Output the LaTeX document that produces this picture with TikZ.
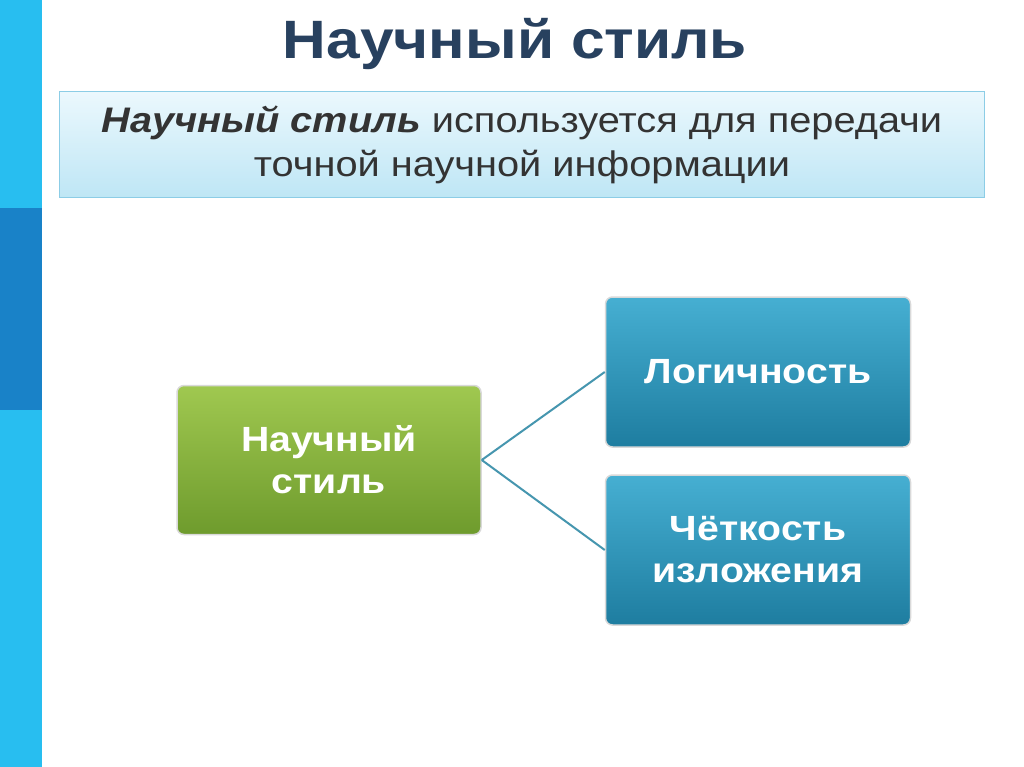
\documentclass[tikz,border=0pt]{standalone}
\usepackage{fontspec}
\setmainfont[FakeStretch=1.12]{Liberation Sans}
\definecolor{barl}{RGB}{40,190,240}
\definecolor{bard}{RGB}{25,130,200}
\definecolor{ttl}{RGB}{40,65,95}
\definecolor{btop}{RGB}{70,175,210}
\definecolor{bbot}{RGB}{30,125,160}
\definecolor{gtop}{RGB}{160,200,80}
\definecolor{gbot}{RGB}{110,155,45}
\definecolor{dtop}{RGB}{235,248,253}
\definecolor{dbot}{RGB}{190,230,245}
\definecolor{dbrd}{RGB}{140,205,230}
\definecolor{cn}{RGB}{70,150,175}
\begin{document}
\begin{tikzpicture}[x=1pt,y=-1pt,
  bbox/.style={draw=white!85!black, line width=1.5pt, rounded corners=7pt, top color=btop, bottom color=bbot, text=white, font=\bfseries\fontsize{35}{42}\selectfont, align=center, minimum width=305pt, minimum height=150pt, inner sep=0pt},
  conn/.style={draw=cn, line width=2pt}]
\useasboundingbox (0,0) rectangle (1024,767);
\fill[white] (0,0) rectangle (1024,767);
\fill[barl] (0,0) rectangle (42,767);
\fill[bard] (0,208) rectangle (42,410);
\node[text=ttl, font=\bfseries\fontsize{54}{60}\selectfont] (title) at (515,44) {Научный стиль};
\node[draw=dbrd, line width=1pt, top color=dtop, bottom color=dbot, minimum width=925pt, minimum height=106pt, inner sep=0pt, align=center, font=\fontsize{35.5}{44}\selectfont, text=black!80] (def) at (522,145) {\textbf{\textit{Научный стиль}} используется для передачи\\точной научной информации};
\node[draw=white!85!black, line width=1.5pt, rounded corners=7pt, top color=gtop, bottom color=gbot, text=white, font=\bfseries\fontsize{35}{42}\selectfont, align=center, minimum width=304pt, minimum height=149pt, inner sep=0pt] (ns) at (329,460) {Научный\\стиль};
\node[bbox] (log) at (758,372) {Логичность};
\node[bbox] (chet) at (758,550) {Чёткость\\изложения};
\draw[conn] (ns.east) -- (log.west);
\draw[conn] (ns.east) -- (chet.west);
\end{tikzpicture}
\end{document}
